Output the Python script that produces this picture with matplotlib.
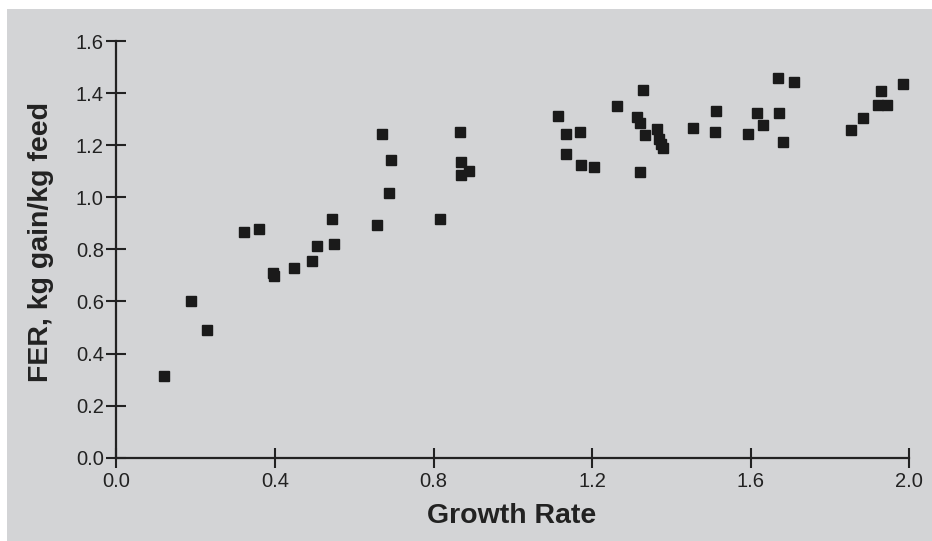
import matplotlib
matplotlib.use("Agg")
import matplotlib.pyplot as plt
from matplotlib.patches import Rectangle

# values
growth_rate = [0.121, 0.188, 0.230, 0.322, 0.359, 0.395, 0.397, 0.448, 0.493, 0.506,
               0.545, 0.549, 0.658, 0.670, 0.693, 0.689, 0.817, 0.866, 0.869, 0.869,
               0.889, 1.113, 1.133, 1.170, 1.135, 1.172, 1.204, 1.264, 1.328, 1.312,
               1.322, 1.333, 1.321, 1.364, 1.369, 1.375, 1.380, 1.454, 1.513, 1.510,
               1.592, 1.617, 1.631, 1.668, 1.672, 1.681, 1.709, 1.852, 1.884, 1.928,
               1.920, 1.943, 1.985]
fer = [0.315, 0.600, 0.489, 0.866, 0.878, 0.710, 0.697, 0.727, 0.754, 0.811,
       0.918, 0.821, 0.894, 1.244, 1.144, 1.016, 0.918, 1.252, 1.134, 1.086,
       1.102, 1.311, 1.244, 1.252, 1.167, 1.123, 1.117, 1.351, 1.412, 1.310,
       1.287, 1.240, 1.096, 1.261, 1.224, 1.205, 1.188, 1.266, 1.330, 1.252,
       1.244, 1.322, 1.278, 1.457, 1.322, 1.211, 1.441, 1.257, 1.305, 1.408,
       1.356, 1.356, 1.435]

x_ticks = [0.0, 0.4, 0.8, 1.2, 1.6, 2.0]
y_ticks = [0.0, 0.2, 0.4, 0.6, 0.8, 1.0, 1.2, 1.4, 1.6]

plt.rcParams['font.family'] = ['Liberation Sans', 'DejaVu Sans']
bg = '#d3d4d6'
ink = '#222222'

fig = plt.figure(figsize=(9.32, 5.41), dpi=100, facecolor='white')
# gray panel with a thin white margin at the left and top
fig.patches.append(Rectangle((7 / 932, 0), 1, 1 - 9 / 541, transform=fig.transFigure,
                             facecolor=bg, edgecolor='none', zorder=-10))

ax = fig.add_axes([116.3 / 932, 83.3 / 541, 793 / 932, 416.7 / 541])
ax.set_zorder(1)
ax.set_facecolor('none')
ax.plot(growth_rate, fer, 's', color='#1a1a1a', markersize=6.7, clip_on=False)

ax.set_xlim(0, 2.0)
ax.set_ylim(0, 1.6)
ax.set_xticks(x_ticks)
ax.set_yticks(y_ticks)
ax.set_xticklabels([f"{v:.1f}" for v in x_ticks])
ax.set_yticklabels([f"{v:.1f}" for v in y_ticks])

for side in ['top', 'right']:
    ax.spines[side].set_visible(False)
for side in ['left', 'bottom']:
    ax.spines[side].set_linewidth(1.6)
    ax.spines[side].set_color(ink)

ax.tick_params(direction='inout', length=14, width=1.5, color=ink,
               labelsize=14.5, labelcolor=ink)
ax.tick_params(axis='x', pad=3)
ax.tick_params(axis='y', pad=2)

ax.set_xlabel('Growth Rate', fontsize=20.5, fontweight='bold', color=ink, va='center')
ax.xaxis.set_label_coords(0.499, -0.14)
ax.set_ylabel('FER, kg gain/kg feed', fontsize=20.5, fontweight='bold', color=ink, va='center')
ax.yaxis.set_label_coords(-0.095, 0.517)

fig.savefig('out.png', dpi=100, facecolor='white')
